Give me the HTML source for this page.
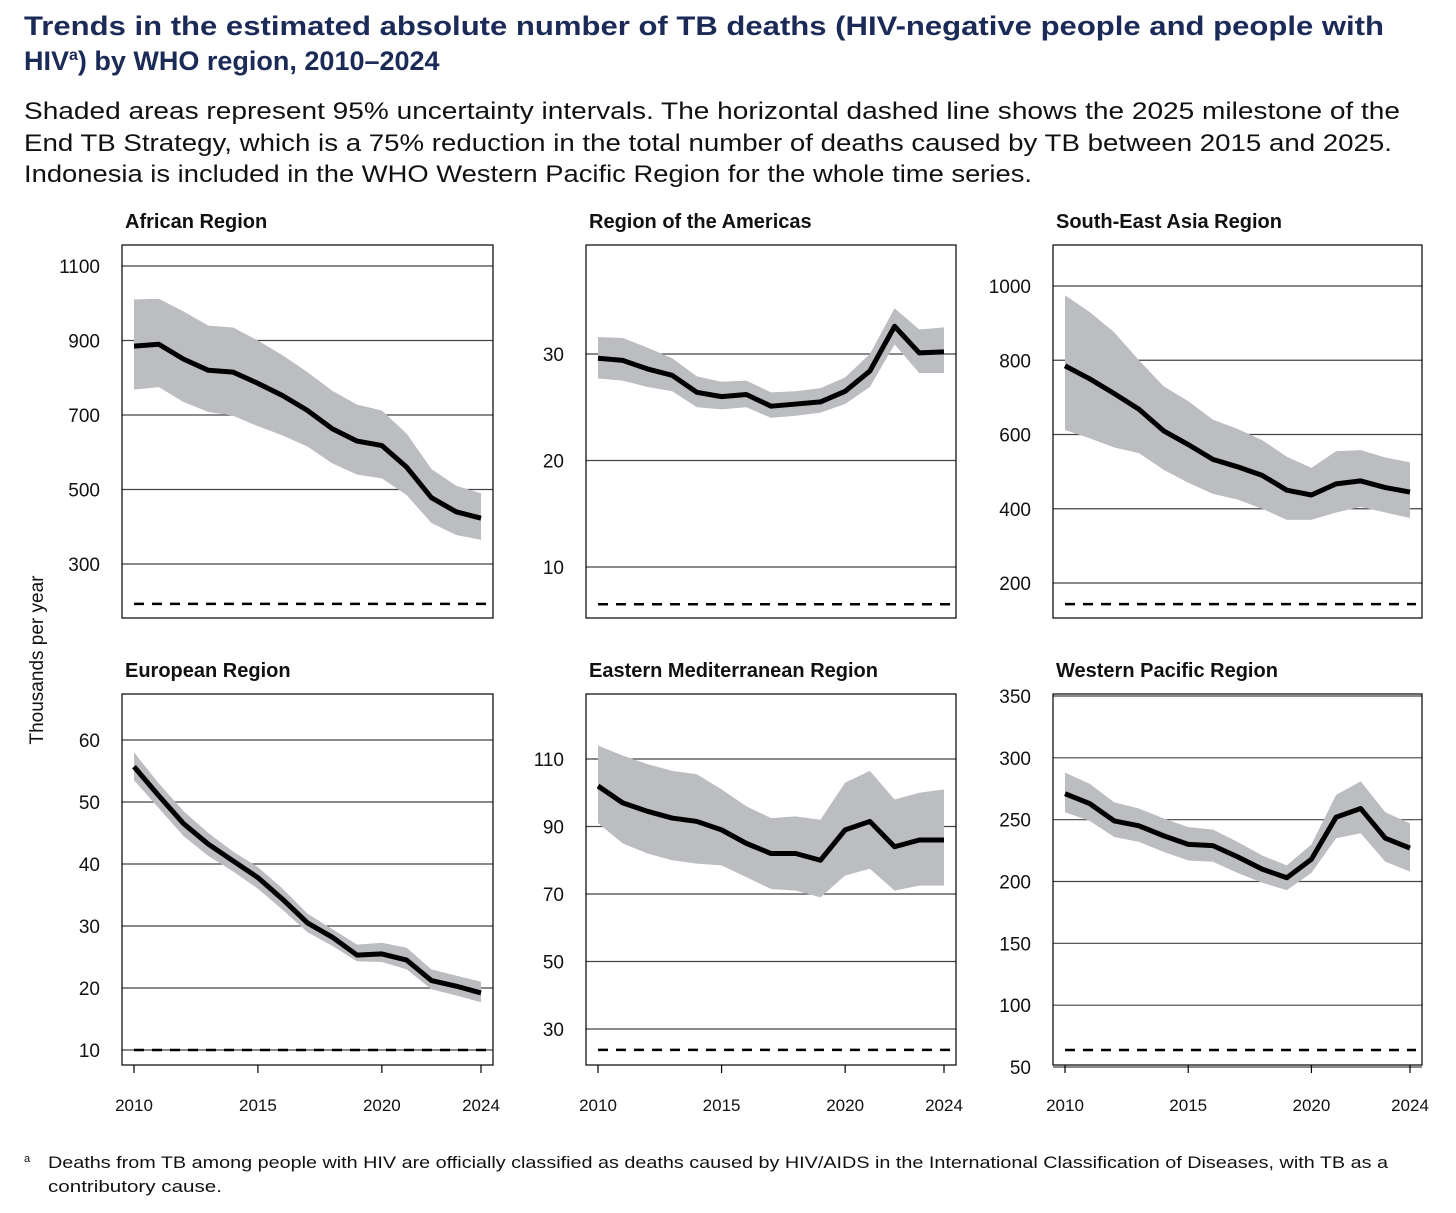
<!DOCTYPE html>
<html><head><meta charset="utf-8"><style>
body{margin:0;background:#fff;width:1456px;height:1208px;overflow:hidden;font-family:"Liberation Sans",sans-serif}
</style></head><body>
<svg id="chart" width="1456" height="1208" xmlns="http://www.w3.org/2000/svg">
<text x="24" y="35" font-size="27" font-weight="bold" fill="#1b2a57" textLength="1360" lengthAdjust="spacingAndGlyphs">Trends in the estimated absolute number of TB deaths (HIV-negative people and people with</text>
<text x="24" y="70" font-size="27" font-weight="bold" fill="#1b2a57">HIV<tspan font-size="16" dy="-10">a</tspan><tspan dy="10">) by WHO region, 2010–2024</tspan></text>
<text x="24" y="119" font-size="24" fill="#111" textLength="1376" lengthAdjust="spacingAndGlyphs">Shaded areas represent 95% uncertainty intervals. The horizontal dashed line shows the 2025 milestone of the</text>
<text x="24" y="151" font-size="24" fill="#111" textLength="1368" lengthAdjust="spacingAndGlyphs">End TB Strategy, which is a 75% reduction in the total number of deaths caused by TB between 2015 and 2025.</text>
<text x="24" y="182" font-size="24" fill="#111" textLength="1008" lengthAdjust="spacingAndGlyphs">Indonesia is included in the WHO Western Pacific Region for the whole time series.</text>
<text transform="translate(43,660) rotate(-90)" text-anchor="middle" font-size="19" fill="#111">Thousands per year</text>
<text x="24" y="1162" font-size="11" fill="#111">a</text>
<text x="48" y="1168" font-size="17" fill="#111" textLength="1340" lengthAdjust="spacingAndGlyphs">Deaths from TB among people with HIV are officially classified as deaths caused by HIV/AIDS in the International Classification of Diseases, with TB as a</text>
<text x="48" y="1192" font-size="17" fill="#111" textLength="174" lengthAdjust="spacingAndGlyphs">contributory cause.</text>
</svg>
<script>
const years=[2010,2011,2012,2013,2014,2015,2016,2017,2018,2019,2020,2021,2022,2023,2024];
const afrMid=[885,890,850,820,815,785,752,712,663,630,618,560,478,440,423];
const afrHi=[1010,1012,978,940,935,900,860,815,765,728,712,650,555,510,490];
const afrLo=[768,775,735,708,698,670,645,615,570,540,530,485,410,378,365];
const amrMid=[29.6,29.4,28.6,28.0,26.4,26.0,26.2,25.1,25.3,25.5,26.5,28.4,32.6,30.1,30.2];
const amrHi=[31.6,31.5,30.6,29.6,27.9,27.4,27.5,26.4,26.5,26.8,27.8,30.0,34.3,32.3,32.5];
const amrLo=[27.7,27.5,26.9,26.5,25.0,24.8,25.0,24.0,24.2,24.5,25.3,26.9,30.9,28.2,28.2];
const searMid=[785,750,710,668,610,573,533,513,490,450,437,467,475,457,445];
const searHi=[975,930,875,800,730,690,640,615,585,540,510,555,558,538,525];
const searLo=[612,590,565,550,505,470,440,425,400,370,370,390,405,390,375];
const eurMid=[55.7,51.0,46.5,43.2,40.5,37.8,34.3,30.5,28.2,25.3,25.5,24.5,21.2,20.3,19.2];
const eurHi=[58,53,48.5,45,42,39.5,36,32,29.5,27,27.3,26.5,23,22,21];
const eurLo=[53.5,49,44.5,41.3,38.8,36,32.6,29,26.8,24.3,24.2,23,19.8,18.8,17.7];
const emrMid=[102,97,94.5,92.5,91.5,89,85,82,82,80,89,91.5,84,86,86];
const emrHi=[114,111,108.5,106.5,105.5,101,96,92.5,93,92,103,106.5,98,100,101];
const emrLo=[91,85,82,80,79,78.5,75,71.5,71,69,75.5,77.5,71,72.5,72.5];
const wprMid=[271,263,249,245,237,230,229,220,210,203,218,252,259,235,227];
const wprHi=[288,279,264,259,251,244,242,232,221,213,230,270,281,256,247];
const wprLo=[256,249,236,232,224,217,216,207,199,193,207,235,239,216,208];
const afrTicks=[300,500,700,900,1100];
const amrTicks=[10,20,30];
const searTicks=[200,400,600,800,1000];
const eurTicks=[10,20,30,40,50,60];
const emrTicks=[30,50,70,90,110];
const wprTicks=[50,100,150,200,250,300,350];
const xTicks=[2010,2015,2020,2024];
const milestones=[193,6.5,143,10,23.8,63.7];

const NS="http://www.w3.org/2000/svg";
const svg=document.getElementById('chart');
function mk(t,a,p){const e=document.createElementNS(NS,t);for(const k in a)e.setAttribute(k,a[k]);(p||svg).appendChild(e);return e;}
const panels=[
 {name:'african-region',title:'African Region',x0:122,x1:493,y0:245,y1:618,v0:300,py0:564,v1:1100,py1:266,mid:afrMid,hi:afrHi,lo:afrLo,ticks:afrTicks,xl:false},
 {name:'americas-region',title:'Region of the Americas',x0:586,x1:956,y0:245,y1:618,v0:10,py0:567,v1:30,py1:354,mid:amrMid,hi:amrHi,lo:amrLo,ticks:amrTicks,xl:false},
 {name:'south-east-asia-region',title:'South-East Asia Region',x0:1053,x1:1422,y0:245,y1:618,v0:200,py0:583,v1:1000,py1:286,mid:searMid,hi:searHi,lo:searLo,ticks:searTicks,xl:false},
 {name:'european-region',title:'European Region',x0:122,x1:493,y0:694,y1:1065,v0:10,py0:1050,v1:60,py1:740,mid:eurMid,hi:eurHi,lo:eurLo,ticks:eurTicks,xl:true},
 {name:'eastern-mediterranean-region',title:'Eastern Mediterranean Region',x0:586,x1:956,y0:694,y1:1065,v0:30,py0:1029,v1:110,py1:759,mid:emrMid,hi:emrHi,lo:emrLo,ticks:emrTicks,xl:true},
 {name:'western-pacific-region',title:'Western Pacific Region',x0:1053,x1:1422,y0:694,y1:1065,v0:50,py0:1067,v1:350,py1:696,mid:wprMid,hi:wprHi,lo:wprLo,ticks:wprTicks,xl:true}
];
panels.forEach((p,i)=>{
 const g=mk('g',{});
 
 
 const xs=y=>p.x0+12+(y-2010)*(p.x1-p.x0-24)/14;
 const ys=v=>p.py0+(v-p.v0)*(p.py1-p.py0)/(p.v1-p.v0);
 const t=mk('text',{x:p.x0+3,y:p.y0-17,'font-size':20,'font-weight':'bold',fill:'#111'},g);t.textContent=p.title;
 
 
 p.ticks.forEach(v=>{
  const l=mk('line',{x1:p.x0,x2:p.x1,y1:ys(v),y2:ys(v),stroke:'#444','stroke-width':1.2},g);
  
  
  const tx=mk('text',{x:p.x0-22,y:ys(v)+7,'text-anchor':'end','font-size':19,fill:'#111'},g);tx.textContent=v;
  
  
 });
 let d='';years.forEach((y,k)=>{d+=(k?'L':'M')+xs(y)+','+ys(p.hi[k]);});
 for(let k=years.length-1;k>=0;k--)d+='L'+xs(years[k])+','+ys(p.lo[k]);
 const band=mk('path',{d:d+'Z',fill:'#bcbdc0'},g);
 
 
 let dm='';years.forEach((y,k)=>{dm+=(k?'L':'M')+xs(y)+','+ys(p.mid[k]);});
 const line=mk('path',{d:dm,fill:'none',stroke:'#000','stroke-width':5,'stroke-linejoin':'round'},g);
 
 
 const ms=mk('line',{x1:xs(2010),x2:p.x1-6,y1:ys(milestones[i]),y2:ys(milestones[i]),stroke:'#000','stroke-width':2.5,'stroke-dasharray':'10,8'},g);
 
 
 const box=mk('rect',{x:p.x0,y:p.y0,width:p.x1-p.x0,height:p.y1-p.y0,fill:'none',stroke:'#000','stroke-width':1.2},g);
 
 
 if(p.xl){xTicks.forEach(y=>{
  const tk=mk('line',{x1:xs(y),x2:xs(y),y1:p.y1,y2:p.y1+8,stroke:'#000','stroke-width':1.2},g);
  
  
  const tx=mk('text',{x:xs(y),y:p.y1+46,'text-anchor':'middle','font-size':17,fill:'#111'},g);tx.textContent=y;
  
  
 });}
});
</script>
</body></html>
